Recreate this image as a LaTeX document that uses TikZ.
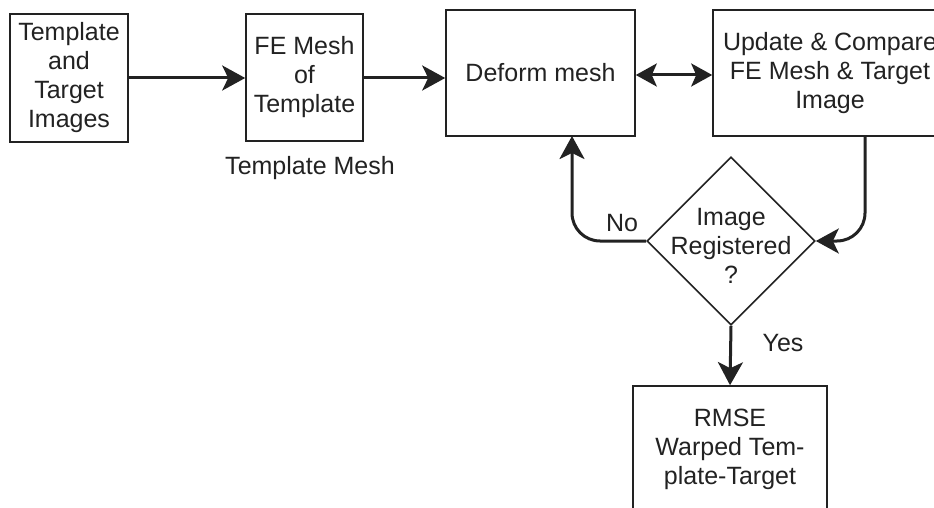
\documentclass[tikz,border=0pt]{standalone}
\usepackage{fontspec}
\setmainfont{Liberation Sans}
\usetikzlibrary{arrows.meta,shapes.geometric}
\definecolor{ink}{HTML}{222222}
\begin{document}
\begin{tikzpicture}[x=1pt,y=-1pt,
  font=\fontsize{25}{29}\selectfont, text=ink,
  box/.style={draw=ink, line width=1.6pt, align=center, inner sep=0pt},
  arr/.style={draw=ink, line width=3pt, -{Stealth[length=23pt,width=25pt,inset=6pt]}},
  darr/.style={draw=ink, line width=3pt, {Stealth[length=21pt,width=23pt,inset=5pt]}-{Stealth[length=21pt,width=23pt,inset=5pt]}},
  lbl/.style={inner sep=0pt}]
\useasboundingbox (0,0) rectangle (934,508);
\clip (0,0) rectangle (934,508);
\fill[white] (0,0) rectangle (934,508);
\node[box, minimum width=118pt, minimum height=128pt] (b1) at (69,78) {Template\\and\\Target\\Images};
\node[box, minimum width=117pt, minimum height=127pt] (b2) at (304.5,77.5) {FE Mesh\\of\\Template};
\node[box, minimum width=189pt, minimum height=126pt] (b3) at (540.5,73) {Deform mesh};
\node[box, minimum width=234pt, minimum height=126pt] (b4) at (830,73) {Update \& Compare\\FE Mesh \& Target\\Image};
\node[diamond, draw=ink, line width=1.6pt, minimum width=168pt, minimum height=168pt, inner sep=0pt] (dia) at (731,241) {};
\node[align=center, inner sep=0pt] (diat) at (731,246) {Image\\Registered\\?};
\node[box, minimum width=194pt, minimum height=126pt] (b5) at (730,449) {RMSE\\Warped Tem-\\plate-Target};
\node[lbl] (tm) at (310,168) {Template Mesh};
\node[lbl] (no) at (622,223) {No};
\node[lbl] (yes) at (783,343) {Yes};
\coordinate (noTop) at (572,136);
\coordinate (upBot) at (865,136);
\draw[arr] (b1.east |- 0,78) -- (b2.west |- 0,78);
\draw[arr] (b2.east |- 0,78) -- (b3.west |- 0,78);
\draw[darr] (b3.east |- 0,75) -- (b4.west |- 0,75);
\draw[arr, rounded corners=28pt] (dia.west) -| (noTop);
\draw[arr, rounded corners=28pt] (upBot) |- (dia.east);
\draw[arr] (dia.south) -- (b5.north);
\end{tikzpicture}
\end{document}
